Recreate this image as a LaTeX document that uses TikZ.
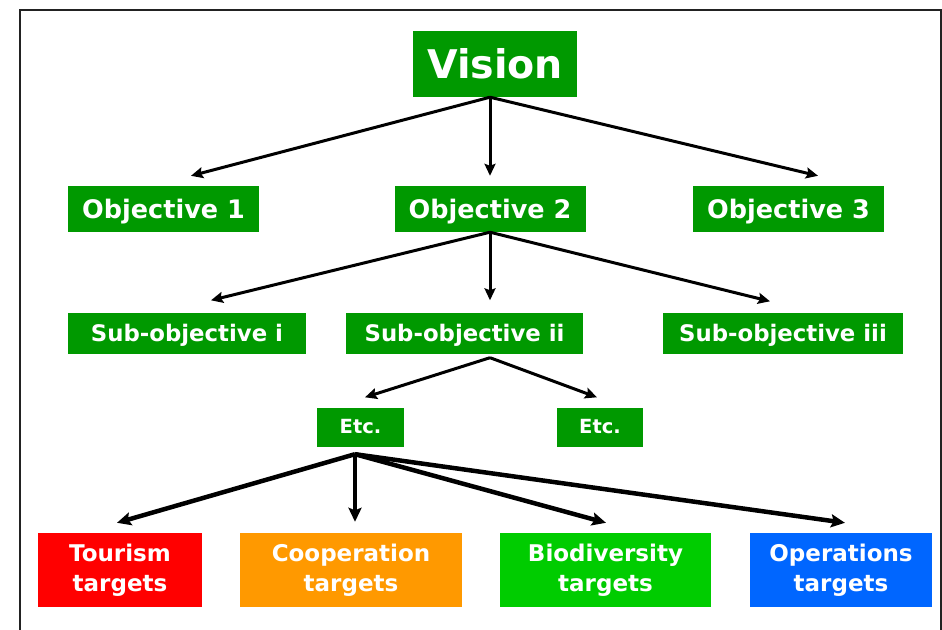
\documentclass[tikz,border=0pt]{standalone}
\usepackage{fontspec}
\setmainfont{DejaVu Sans}
\usetikzlibrary{arrows.meta}

\definecolor{boxgreen}{HTML}{009900}
\definecolor{tourred}{HTML}{FF0000}
\definecolor{cooporange}{HTML}{FF9900}
\definecolor{biogreen}{HTML}{00CC00}
\definecolor{opsblue}{HTML}{0066FF}
\definecolor{framegray}{HTML}{222222}

\tikzset{
  box/.style={fill=boxgreen, text=white, inner sep=0pt, align=center},
  objbox/.style={box, minimum height=46pt, text depth=0pt, font=\bfseries\fontsize{25.5}{30}\selectfont},
  subbox/.style={box, minimum height=41pt, text depth=0pt, font=\bfseries\fontsize{22.8}{27}\selectfont},
  etcbox/.style={box, minimum width=87pt, minimum height=39pt, font=\bfseries\fontsize{19.5}{23}\selectfont},
  targetbox/.style={box, minimum height=74pt, font=\bfseries\fontsize{23}{30}\selectfont},
  arr/.style={line width=3pt, -{Stealth[length=12pt,width=11pt,inset=2pt]}},
  fatarr/.style={line width=4.5pt, -{Stealth[length=14pt,width=13pt,inset=2.5pt]}}
}

\begin{document}
\begin{tikzpicture}[x=1pt,y=-1pt]
\useasboundingbox (0,0) rectangle (942,629);
\draw[framegray, line width=2.4pt] (19.7,10) rectangle (940.7,660);

  % top level
  \node[box, minimum width=164pt, minimum height=66pt, font=\bfseries\fontsize{39.5}{44}\selectfont] (vision) at (495,64) {Vision};

  % objectives
  \node[objbox, minimum width=191pt] (obj1) at (163.5,209) {Objective 1};
  \node[objbox, minimum width=191pt] (obj2) at (490,209) {Objective 2};
  \node[objbox, minimum width=191pt] (obj3) at (788.5,209) {Objective 3};

  % sub-objectives
  \node[subbox, minimum width=238pt] (subi) at (187,333) {Sub-objective i};
  \node[subbox, minimum width=237pt] (subii) at (464.5,333) {Sub-objective ii};
  \node[subbox, minimum width=240pt] (subiii) at (783,333) {Sub-objective iii};

  \node[etcbox] (etcl) at (360.5,427) {Etc.};
  \node[etcbox, minimum width=86pt] (etcr) at (600,427) {Etc.};

  % targets
  \node[targetbox, fill=tourred, minimum width=164pt] (tour) at (120,570) {Tourism\\targets};
  \node[targetbox, fill=cooporange, minimum width=222pt] (coop) at (351,570) {Cooperation\\targets};
  \node[targetbox, fill=biogreen, minimum width=211pt] (bio) at (605.5,570) {Biodiversity\\targets};
  \node[targetbox, fill=opsblue, minimum width=182pt] (ops) at (841,570) {Operations\\targets};

  \coordinate (visfan) at ([xshift=-5pt]vision.south);
  \coordinate (subfan) at ([xshift=25.5pt,yshift=-4pt]subii.south);
  \coordinate (etcfan) at ([xshift=-5.5pt,yshift=-7.5pt]etcl.south);

  \draw[arr] (visfan) -- ([xshift=27.5pt,yshift=10pt]obj1.north);
  \draw[arr] (visfan) -- ([yshift=10pt]obj2.north);
  \draw[arr] (visfan) -- ([xshift=29.5pt,yshift=10pt]obj3.north);

  \draw[arr] (obj2.south) -- ([xshift=24pt,yshift=12pt]subi.north);
  \draw[arr] (obj2.south) -- ([xshift=25.5pt,yshift=12pt]subii.north);
  \draw[arr] (obj2.south) -- ([xshift=-13pt,yshift=11pt]subiii.north);

  \draw[arr] (subfan) -- ([xshift=4.5pt,yshift=10pt]etcl.north);
  \draw[arr] (subfan) -- ([xshift=-3pt,yshift=10pt]etcr.north);

  \draw[fatarr] (etcfan) -- ([xshift=-3pt,yshift=10pt]tour.north);
  \draw[fatarr] (etcfan) -- ([xshift=4pt,yshift=11pt]coop.north);
  \draw[fatarr] (etcfan) -- ([xshift=0.5pt,yshift=10pt]bio.north);
  \draw[fatarr] (etcfan) -- ([xshift=4pt,yshift=10pt]ops.north);
\end{tikzpicture}
\end{document}
